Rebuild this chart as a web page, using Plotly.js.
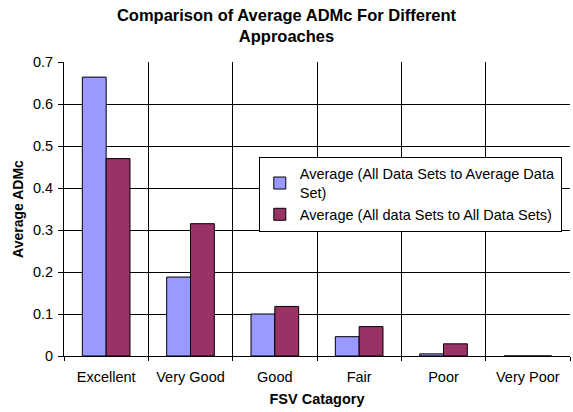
<!DOCTYPE html>
<html>
<head>
<meta charset="utf-8">
<script src="https://cdn.plot.ly/plotly-3.0.1.min.js"></script>
<style>html,body{margin:0;padding:0;background:#fff;}#chart{width:573px;height:412px;}</style>
</head>
<body>
<div id="chart"></div>
<script>
var categories = ["Excellent", "Very Good", "Good", "Fair", "Poor", "Very Poor"];
var seriesNames = ["Average (All Data Sets to Average Data<br>Set)", "Average (All data Sets to All Data Sets)"];
var avgToAvg = [0.664, 0.188, 0.100, 0.046, 0.005, 0];
var allToAll = [0.470, 0.315, 0.118, 0.070, 0.029, 0];
var yTicks = [0, 0.1, 0.2, 0.3, 0.4, 0.5, 0.6, 0.7];
var yTickText = ["0", "0.1", "0.2", "0.3", "0.4", "0.5", "0.6", "0.7"];

var FONT = "Arial, 'Liberation Sans', sans-serif";
var data = [
  {type: "bar", x: categories, y: avgToAvg, name: seriesNames[0],
   marker: {color: "#9999FF", line: {color: "#000", width: 1}}},
  {type: "bar", x: categories, y: allToAll, name: seriesNames[1],
   marker: {color: "#993366", line: {color: "#000", width: 1}}}
];
var layout = {
  width: 573, height: 412,
  margin: {l: 64, r: 3, t: 62, b: 56},
  paper_bgcolor: "#fff", plot_bgcolor: "#fff",
  font: {family: FONT, size: 12, color: "#000"},
  title: {text: "<b>Comparison of Average ADMc For Different<br>Approaches</b>",
          x: 0.5, xref: "container", xanchor: "center", y: 0.95, yref: "container", yanchor: "middle",
          font: {family: FONT, size: 16.5, color: "#000"}},
  barmode: "group", bargap: 0.435, bargroupgap: 0,
  xaxis: {
    type: "category", tickson: "boundaries", showgrid: true, gridcolor: "#000", gridwidth: 1,
    ticks: "outside", ticklen: 4, tickcolor: "#000", showline: true, linecolor: "#000",
    ticklabelstandoff: 8,
    tickfont: {family: FONT, size: 14.5}, range: [-0.5, 5.5],
    title: {text: "<b>FSV Catagory</b>", font: {family: FONT, size: 14.5}, standoff: 9}
  },
  yaxis: {
    range: [0, 0.7], tickvals: yTicks, ticktext: yTickText,
    showgrid: true, gridcolor: "#000", gridwidth: 1, zeroline: false,
    ticks: "outside", ticklen: 5, tickcolor: "#000", showline: true, linecolor: "#000",
    ticklabelstandoff: 2,
    tickfont: {family: FONT, size: 14.5},
    title: {text: "<b>Average ADMc</b>", font: {family: FONT, size: 14}, standoff: 6}
  },
  legend: {x: 0.385, y: 0.678, xanchor: "left", yanchor: "top",
           bgcolor: "#fff", bordercolor: "#000", borderwidth: 1,
           font: {family: FONT, size: 14.5}, tracegroupgap: 0, itemwidth: 30},
  showlegend: true
};
Plotly.newPlot("chart", data, layout, {displayModeBar: false, staticPlot: true});
</script>
</body>
</html>
